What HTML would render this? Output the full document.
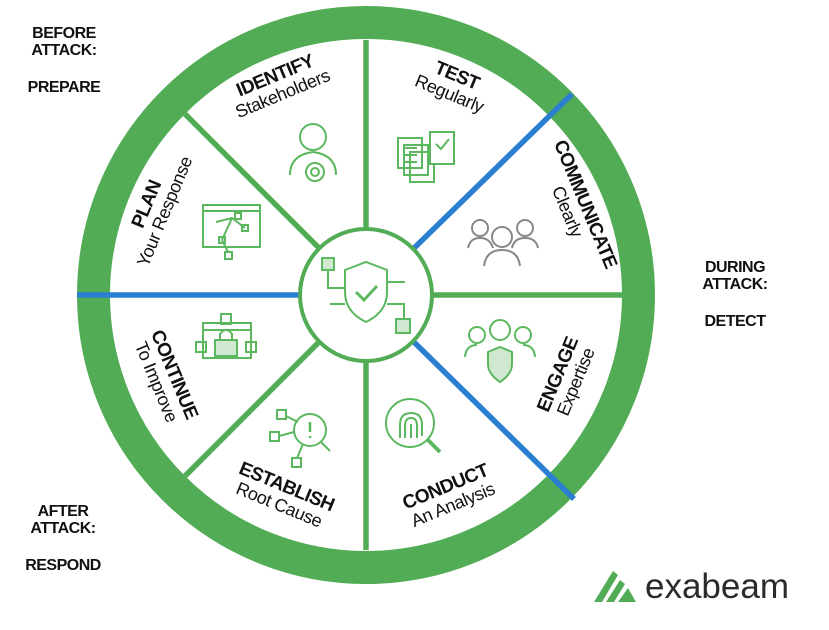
<!DOCTYPE html>
<html><head><meta charset="utf-8"><style>
html,body{margin:0;padding:0;background:#fff;}
svg{display:block;}
text{font-family:"Liberation Sans",sans-serif;}
.side{font-size:16px;font-weight:bold;fill:#111;text-anchor:middle;letter-spacing:-0.5px;}
.t{font-size:19px;font-weight:bold;fill:#111;text-anchor:middle;dominant-baseline:central;letter-spacing:-0.6px;}
.s{font-size:18px;fill:#111;text-anchor:middle;dominant-baseline:central;letter-spacing:-0.4px;}
.ic{fill:none;stroke:#5cb85f;stroke-width:2;}
</style></head><body>
<svg width="829" height="630" viewBox="0 0 829 630" xmlns="http://www.w3.org/2000/svg">
<rect width="829" height="630" fill="#fff"/>
<circle cx="366" cy="295" r="272.5" fill="#fff" stroke="#52ac55" stroke-width="33"/>
<g stroke-width="5.5">
<line x1="366" y1="295" x2="366" y2="40" stroke="#52ac55"/>
<line x1="366" y1="295" x2="366" y2="550" stroke="#52ac55"/>
<line x1="366" y1="295" x2="622" y2="295" stroke="#52ac55"/>
<line x1="366" y1="295" x2="185" y2="114" stroke="#52ac55"/>
<line x1="366" y1="295" x2="185" y2="476" stroke="#52ac55"/>
<line x1="366" y1="295" x2="77" y2="295" stroke="#2a7fd0"/>
<line x1="366" y1="295" x2="572" y2="94" stroke="#2a7fd0"/>
<line x1="366" y1="295" x2="574" y2="499" stroke="#2a7fd0"/>
</g>
<circle cx="366" cy="295" r="66" fill="#fff" stroke="#52ac55" stroke-width="4"/>
<g class="ic">
<rect x="322" y="258" width="12" height="12" fill="#cfe8cf"/>
<path d="M328 270 V288 H345"/>
<path d="M345 270 L366 262 L387 270 V292 Q387 312 366 322 Q345 312 345 292 Z"/>
<path d="M356 292 L364 300 L377 286" stroke-width="3"/>
<path d="M387 282 H405 M330 304 H345 M387 304 H404 V319"/>
<rect x="396" y="319" width="14" height="14" fill="#cfe8cf"/>
</g>
<g class="ic">
<circle cx="313" cy="137" r="13"/><path d="M290 175 Q290 155 313 152 Q336 155 336 175"/>
<circle cx="315" cy="172" r="9"/><circle cx="315" cy="172" r="4"/>
<rect x="398" y="138" width="24" height="30"/><rect x="404" y="145" width="24" height="30"/><rect x="410" y="152" width="24" height="30"/>
<rect x="430" y="132" width="24" height="32" fill="#fff"/><path d="M436 144 L441 149 L449 139"/>
<path d="M403 148 H417 M403 155 H417 M403 162 H417"/>
<g stroke="#888"><circle cx="480" cy="228" r="8"/><circle cx="525" cy="228" r="8"/><path d="M468 248 Q470 238 480 238 Q490 238 493 248 M512 248 Q514 238 525 238 Q536 238 538 248"/>
<circle cx="502" cy="237" r="10" fill="#fff"/><path d="M484 266 Q486 250 502 250 Q518 250 520 266"/></g>
<circle cx="477" cy="335" r="8"/><circle cx="523" cy="335" r="8"/><circle cx="500" cy="330" r="10"/>
<path d="M465 357 Q466 345 477 345 M535 357 Q534 345 523 345"/>
<path d="M488 352 L500 347 L512 352 V364 Q512 374 500 382 Q488 374 488 364 Z" fill="#cfe8cf"/>
<circle cx="410" cy="423" r="24"/><path d="M428 440 L440 452" stroke-width="4"/>
<path d="M400 438 V425 Q400 413 411 413 Q422 413 422 425 V436 M405 438 V426 Q405 418 411 418 Q417 418 417 426 V438 M411 438 V424"/>
<circle cx="310" cy="430" r="16"/><path d="M321 442 L330 451"/><path d="M310 422 V432 M310 436 V438" stroke-width="2.5"/>
<rect x="277" y="410" width="9" height="9"/><rect x="270" y="432" width="9" height="9"/><rect x="292" y="458" width="9" height="9"/>
<path d="M286 416 L298 422 M279 436 L294 432 M297 458 L303 444"/>
<rect x="203" y="323" width="48" height="35"/><path d="M203 330 H251"/>
<rect x="221" y="314" width="10" height="10"/><rect x="196" y="342" width="10" height="10"/><rect x="246" y="342" width="10" height="10"/>
<rect x="215" y="340" width="22" height="16" fill="#cfe8cf"/><path d="M220 340 V334 Q226 326 232 334 V340"/>
<rect x="203" y="205" width="57" height="42"/><path d="M203 211 H260"/>
<path d="M216 222 L232 218 L245 228 M232 218 L222 240 L228 252"/><rect x="235" y="213" width="6" height="6"/><rect x="242" y="225" width="6" height="6"/><rect x="219" y="237" width="6" height="6"/><rect x="225" y="252" width="7" height="7"/>
</g>
<g transform="translate(366,295) rotate(-22.5)"><text class="t" x="0" y="-237">IDENTIFY</text><text class="s" x="0" y="-218">Stakeholders</text></g>
<g transform="translate(366,295) rotate(22.5)"><text class="t" x="0" y="-237">TEST</text><text class="s" x="0" y="-218">Regularly</text></g>
<g transform="translate(366,295) rotate(67.5)"><text class="t" x="0" y="-237">COMMUNICATE</text><text class="s" x="0" y="-218">Clearly</text></g>
<g transform="translate(366,295) rotate(-67.5)"><text class="t" x="0" y="-237">PLAN</text><text class="s" x="0" y="-218">Your Response</text></g>
<g transform="translate(366,295) rotate(-67.5)"><text class="t" x="0" y="208">ENGAGE</text><text class="s" x="0" y="227">Expertise</text></g>
<g transform="translate(366,295) rotate(-22.5)"><text class="t" x="0" y="208">CONDUCT</text><text class="s" x="0" y="227">An Analysis</text></g>
<g transform="translate(366,295) rotate(22.5)"><text class="t" x="0" y="208">ESTABLISH</text><text class="s" x="0" y="227">Root Cause</text></g>
<g transform="translate(366,295) rotate(67.5)"><text class="t" x="0" y="208">CONTINUE</text><text class="s" x="0" y="227">To Improve</text></g>
<text class="side" x="64" y="38">BEFORE</text><text class="side" x="64" y="55">ATTACK:</text><text class="side" x="64" y="92">PREPARE</text>
<text class="side" x="735" y="272">DURING</text><text class="side" x="735" y="289">ATTACK:</text><text class="side" x="735" y="326">DETECT</text>
<text class="side" x="63" y="516">AFTER</text><text class="side" x="63" y="533">ATTACK:</text><text class="side" x="63" y="570">RESPOND</text>
<g fill="#52ac55"><polygon points="594,602 613,571 618,575 602,602"/><polygon points="606,602 620,580 625,584 614,602"/><polygon points="618,602 628,588 636,602"/></g>
<text x="645" y="598" style="font-size:35px;fill:#2b2b2b;font-family:'Liberation Sans',sans-serif;">exabeam</text>
</svg>
</body></html>
